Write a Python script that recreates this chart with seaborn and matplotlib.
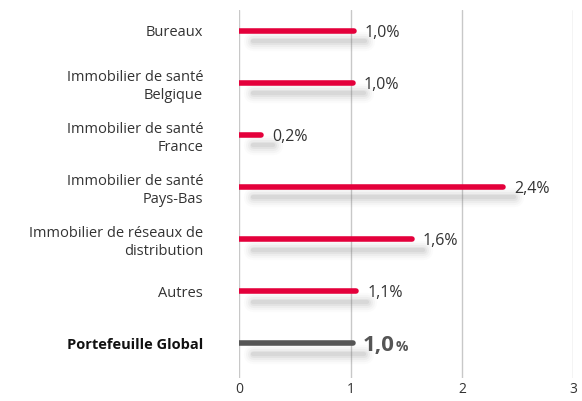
import matplotlib
matplotlib.use("Agg")
import matplotlib.pyplot as plt
import seaborn as sns
import numpy as np
import pandas as pd

# Données
categories = [
    "Bureaux",
    "Immobilier de santé\nBelgique",
    "Immobilier de santé\nFrance",
    "Immobilier de santé\nPays-Bas",
    "Immobilier de réseaux de\ndistribution",
    "Autres",
    "Portefeuille Global",
]
values = [1.03, 1.02, 0.2, 2.37, 1.55, 1.05, 1.02]
labels = ["1,0%", "1,0%", "0,2%", "2,4%", "1,6%", "1,1%", "1,0"]
x_ticks = [0, 1, 2, 3]

sns.set_theme(style="white")
plt.rcParams['font.family'] = ['Open Sans', 'DejaVu Sans']

red = "#E4003B"
grey_bar = "#555555"
text_col = "#333333"

df = pd.DataFrame({"cat": categories, "val": values})
df["pos"] = np.arange(len(df))

fig, ax = plt.subplots(figsize=(5.82, 4.01), dpi=100)
fig.subplots_adjust(left=0.411, right=0.985, top=0.975, bottom=0.057)

# grille verticale
for t in x_ticks:
    ax.axvline(t, color="#c8c8c8", lw=1, zorder=0)

# ombres floues
for w, a in [(14, 0.025), (11, 0.035), (8, 0.05), (5, 0.07), (3, 0.09)]:
    lc = ax.hlines(df["pos"] + 0.2, 0.12, df["val"] + 0.1, color="#6a6a6a",
                   lw=w, alpha=a, zorder=1)
    lc.set_capstyle("round")

colors = [red] * (len(df) - 1) + [grey_bar]
lc = ax.hlines(df["pos"], 0, df["val"], color=colors, lw=4, zorder=3)
lc.set_capstyle("round")

for i, row in df.iterrows():
    if i == len(df) - 1:
        t = ax.text(row["val"] + 0.09, row["pos"] + 0.05, labels[i], fontsize=16,
                    fontweight="bold", color=grey_bar, va="center", ha="left")
        ax.annotate("%", xy=(1, 0), xycoords=t, xytext=(1, 2),
                    textcoords="offset points", fontsize=10, fontweight="bold",
                    color=grey_bar, va="bottom", ha="left")
    else:
        ax.text(row["val"] + 0.1, row["pos"] + 0.04, labels[i], fontsize=11.5,
                color=text_col, va="center", ha="left")

ax.set_xlim(0, 3)
ax.set_ylim(6.67, -0.4)
ax.set_xticks(x_ticks)
ax.set_xticklabels([str(t) for t in x_ticks], fontsize=10, color=text_col)
ax.set_yticks(df["pos"])
ax.set_yticklabels(categories, fontsize=10.5, color=text_col, ha="right",
                   multialignment="right", linespacing=1.3)
ax.get_yticklabels()[-1].set_fontweight("bold")
ax.get_yticklabels()[-1].set_color("#111111")
ax.tick_params(axis="y", length=0, pad=26)
ax.tick_params(axis="x", length=0, pad=3)
sns.despine(ax=ax, left=True, bottom=True)
ax.set_xlabel("")
ax.set_ylabel("")

fig.savefig("out.png", dpi=100)
